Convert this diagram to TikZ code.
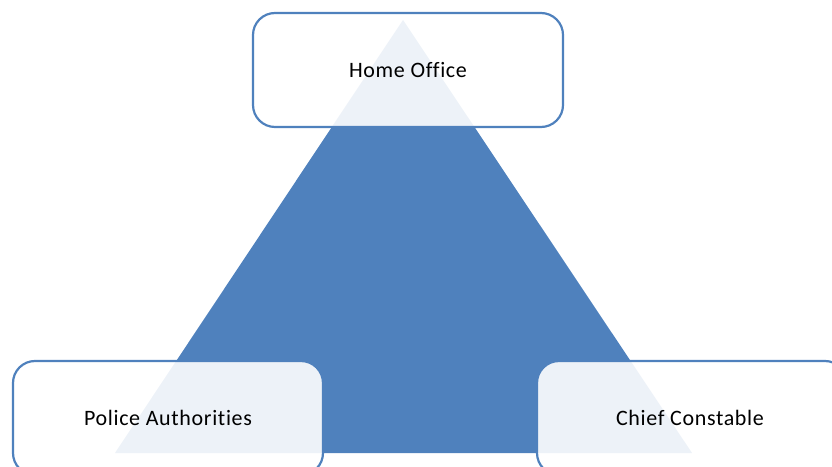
\documentclass[tikz,border=0pt]{standalone}
\usepackage{fontspec}
\setmainfont[Ligatures=NoCommon, LetterSpace=3]{Carlito}
\usepackage{tikz}
\usetikzlibrary{positioning}
\definecolor{pyramidblue}{RGB}{79,129,189}
\tikzset{pyramid/.style={fill=pyramidblue, draw=none}}
\tikzset{role node/.style={rectangle, rounded corners=22pt, draw=pyramidblue,
    line width=2.2pt, fill=white, fill opacity=0.9, text opacity=1,
    minimum width=310pt, minimum height=114pt,
    font=\fontsize{22}{26}\selectfont}}

\begin{document}
\begin{tikzpicture}
  [x=1pt, y=1pt]
  \useasboundingbox (0,0) rectangle (832,466);
  \clip (0,0) rectangle (832,466);

  \coordinate (apex)  at (403,446);
  \coordinate (baseL) at (115, 13);
  \coordinate (baseR) at (692, 13);
  \fill [pyramid] (apex) -- (baseL) -- (baseR) -- cycle;

  \node [role node]                   (home)   at (408,396) {Home Office};
  \node [role node, text depth=-6pt]  (police) at (168, 48) {Police Authorities};
  \node [role node, text depth=-6pt]  (chief)  at (692, 48) {\hspace*{-4pt}Chief Constable};
\end{tikzpicture}
\end{document}
